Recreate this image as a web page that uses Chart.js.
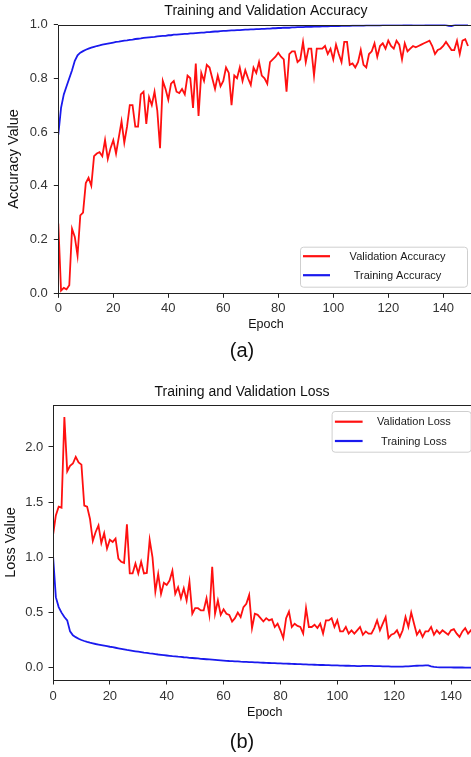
<!DOCTYPE html>
<html><head><meta charset="utf-8">
<script src="https://cdn.jsdelivr.net/npm/chart.js@4.4.1/dist/chart.umd.min.js"></script>
<style>
html,body{margin:0;padding:0;width:471px;height:757px;overflow:hidden;background:#fff;}
canvas{position:absolute;left:0;}
#cA{top:0;}
#cB{top:370px;}
</style></head><body>
<canvas id="cA" width="484" height="370"></canvas>
<canvas id="cB" width="484" height="387"></canvas>
<script>
// ---- data ----
const valAcc = [
0.26,0.01,0.02,0.015,0.03,0.24,0.21,0.14,0.29,0.30,
0.41,0.43,0.40,0.51,0.52,0.525,0.51,0.57,0.50,0.54,
0.57,0.52,0.58,0.64,0.56,0.62,0.70,0.70,0.62,0.62,
0.74,0.75,0.63,0.73,0.70,0.75,0.68,0.54,0.79,0.76,
0.72,0.78,0.79,0.75,0.745,0.76,0.74,0.81,0.80,0.69,
0.855,0.66,0.82,0.79,0.85,0.84,0.80,0.76,0.81,0.77,
0.79,0.84,0.82,0.70,0.81,0.80,0.84,0.79,0.83,0.80,
0.775,0.84,0.82,0.86,0.81,0.80,0.78,0.86,0.87,0.88,
0.895,0.88,0.87,0.75,0.89,0.90,0.90,0.86,0.87,0.935,
0.86,0.91,0.91,0.81,0.91,0.91,0.91,0.92,0.89,0.91,
0.87,0.925,0.89,0.86,0.935,0.935,0.85,0.855,0.84,0.86,
0.905,0.85,0.84,0.89,0.90,0.93,0.88,0.92,0.93,0.91,
0.94,0.92,0.91,0.94,0.925,0.87,0.93,0.90,0.91,0.92,
0.915,0.92,0.925,0.93,0.935,0.94,0.92,0.89,0.905,0.91,
0.92,0.935,0.92,0.905,0.905,0.94,0.89,0.94,0.945,0.92];
const trainAcc = [
0.59,0.69,0.74,0.77,0.80,0.83,0.865,0.885,0.895,0.901,
0.906,0.910,0.914,0.917,0.920,0.922,0.925,0.927,0.929,0.931,
0.933,0.935,0.936,0.938,0.940,0.941,0.943,0.944,0.946,0.947,
0.948,0.950,0.951,0.952,0.953,0.954,0.956,0.957,0.958,0.958,
0.960,0.960,0.962,0.962,0.963,0.964,0.965,0.965,0.967,0.967,
0.968,0.969,0.970,0.970,0.972,0.972,0.973,0.974,0.974,0.975,
0.976,0.976,0.977,0.978,0.978,0.979,0.979,0.980,0.981,0.981,
0.982,0.982,0.983,0.983,0.984,0.984,0.985,0.985,0.986,0.986,
0.987,0.987,0.988,0.988,0.988,0.989,0.989,0.990,0.990,0.990,
0.991,0.991,0.991,0.992,0.992,0.992,0.993,0.993,0.993,0.994,
0.994,0.994,0.994,0.995,0.995,0.995,0.995,0.996,0.996,0.996,
0.996,0.996,0.997,0.997,0.997,0.997,0.997,0.997,0.998,0.998,
0.998,0.998,0.998,0.998,0.998,0.998,0.999,0.999,0.999,0.998,
0.998,0.998,0.998,0.998,0.999,0.999,0.999,0.999,0.999,0.999,
0.999,0.998,0.995,0.994,0.998,0.999,1.000,1.000,1.000,1.000];
const valLoss = [
1.20,1.38,1.46,1.45,2.27,1.78,1.83,1.85,1.91,1.86,
1.84,1.47,1.46,1.35,1.15,1.23,1.29,1.13,1.22,1.08,
1.16,1.14,1.17,0.99,0.96,0.95,1.30,0.855,0.855,0.945,
0.855,0.96,0.855,0.86,1.16,1.00,0.69,0.85,0.67,0.77,
0.75,0.79,0.88,0.67,0.73,0.63,0.72,0.61,0.78,0.49,
0.54,0.54,0.52,0.52,0.63,0.48,0.915,0.49,0.61,0.48,
0.53,0.49,0.48,0.42,0.45,0.50,0.46,0.55,0.58,0.66,
0.36,0.49,0.48,0.45,0.42,0.45,0.43,0.44,0.37,0.40,
0.34,0.27,0.45,0.51,0.37,0.40,0.38,0.37,0.31,0.54,
0.37,0.37,0.39,0.36,0.40,0.31,0.43,0.43,0.45,0.37,
0.43,0.33,0.33,0.37,0.31,0.34,0.31,0.34,0.37,0.30,
0.33,0.31,0.31,0.36,0.43,0.34,0.40,0.46,0.27,0.30,
0.31,0.34,0.28,0.34,0.46,0.37,0.50,0.40,0.30,0.34,
0.28,0.33,0.33,0.37,0.30,0.34,0.31,0.34,0.32,0.30,
0.34,0.35,0.31,0.28,0.33,0.36,0.31,0.34,0.30,0.33];
const trainLoss = [
1.02,0.64,0.55,0.50,0.46,0.43,0.33,0.295,0.278,0.264,
0.252,0.243,0.235,0.228,0.222,0.216,0.211,0.206,0.201,0.196,
0.191,0.187,0.182,0.177,0.172,0.167,0.162,0.158,0.154,0.150,
0.146,0.142,0.138,0.135,0.131,0.128,0.125,0.121,0.118,0.115,
0.112,0.109,0.106,0.104,0.101,0.099,0.096,0.094,0.091,0.089,
0.087,0.085,0.082,0.080,0.078,0.076,0.074,0.072,0.070,0.068,
0.066,0.064,0.062,0.061,0.059,0.058,0.056,0.055,0.054,0.052,
0.051,0.050,0.049,0.047,0.046,0.045,0.044,0.043,0.042,0.041,
0.040,0.039,0.038,0.037,0.036,0.035,0.034,0.033,0.032,0.031,
0.030,0.029,0.028,0.027,0.026,0.026,0.025,0.024,0.023,0.022,
0.022,0.021,0.020,0.019,0.019,0.018,0.017,0.016,0.016,0.017,
0.017,0.018,0.017,0.016,0.015,0.015,0.014,0.013,0.013,0.012,
0.011,0.011,0.011,0.012,0.013,0.014,0.016,0.018,0.019,0.020,
0.021,0.022,0.022,0.014,0.008,0.006,0.005,0.005,0.004,0.004,
0.004,0.003,0.003,0.003,0.003,0.002,0.002,0.002,0.002,0.002];
const epochs = valAcc.map((_, i) => i);
const epochTicks = [0, 20, 40, 60, 80, 100, 120, 140];
const accTicks = [0.0, 0.2, 0.4, 0.6, 0.8, 1.0];
const lossTicks = [0.0, 0.5, 1.0, 1.5, 2.0];

// ---- styling ----
const FONT = '"Liberation Sans", Arial, sans-serif';
Chart.defaults.font.family = FONT;
Chart.defaults.color = '#222';

const framePlugin = {
  id: 'frame',
  afterDatasetsDraw(chart) {
    const {ctx, chartArea: a} = chart;
    ctx.save();
    ctx.strokeStyle = '#222';
    ctx.lineWidth = 1;
    const l = Math.round(a.left) + 0.5, t = Math.round(a.top) + 0.5;
    const r = Math.round(a.right) + 0.5, b = Math.round(a.bottom) + 0.5;
    ctx.strokeRect(l, t, r - l, b - t);
    ctx.restore();
  }
};

const boxLegend = {
  id: 'boxLegend',
  afterDraw(chart, args, o) {
    if (!o || !o.width) return;
    const {ctx, chartArea: a} = chart;
    const left = a.right - o.insetRight - o.width;
    const top = o.corner === 'lower' ? a.bottom - o.insetY - o.height : a.top + o.insetY;
    ctx.save();
    ctx.fillStyle = 'rgba(255,255,255,0.85)';
    ctx.strokeStyle = '#cfcfcf';
    ctx.lineWidth = 1;
    ctx.beginPath();
    ctx.roundRect(left + 0.5, top + 0.5, o.width, o.height, 3);
    ctx.fill();
    ctx.stroke();
    ctx.font = '11px ' + FONT;
    ctx.textAlign = 'center';
    ctx.textBaseline = 'middle';
    chart.data.datasets.forEach((ds, i) => {
      const y = top + o.rows[i];
      ctx.strokeStyle = ds.borderColor;
      ctx.lineWidth = 2.2;
      ctx.beginPath();
      ctx.moveTo(left + o.lineX0, y);
      ctx.lineTo(left + o.lineX1, y);
      ctx.stroke();
      ctx.fillStyle = '#1a1a1a';
      ctx.fillText(ds.label, left + o.textX, y + 0.5);
    });
    ctx.restore();
  }
};

function xy(arr) { return arr.map((v, i) => ({x: epochs[i], y: v})); }

function makeChart(id, cfg) {
  return new Chart(document.getElementById(id), {
    type: 'line',
    data: {
      datasets: [
        {label: cfg.labels[0], data: xy(cfg.val), borderColor: '#ff1010', borderWidth: 1.8, pointRadius: 0, tension: 0, yAxisID: 'y'},
        {label: cfg.labels[1], data: xy(cfg.train), borderColor: '#1a1aee', borderWidth: 1.8, pointRadius: 0, tension: 0, yAxisID: 'y'}
      ]
    },
    options: {
      responsive: false,
      animation: false,
      layout: {padding: 0},
      plugins: {
        legend: {display: false},
        tooltip: {enabled: false},
        title: {display: true, text: cfg.title, fullSize: cfg.titleFull, color: '#111',
                font: {size: 14, weight: 'normal', family: FONT, lineHeight: 1.2},
                padding: cfg.titlePad},
        subtitle: {display: true, position: 'bottom', text: cfg.sub, color: '#111',
                   font: {size: 20, weight: 'normal', family: FONT, lineHeight: 1.2},
                   padding: {top: 0, bottom: cfg.subPadBottom}},
        boxLegend: cfg.legend
      },
      scales: {
        x: {
          type: 'linear', position: 'bottom', min: 0, max: cfg.xMax,
          afterBuildTicks: s => { s.ticks = epochTicks.map(v => ({value: v})); },
          afterFit: s => { s.height = cfg.xHeight; },
          ticks: {color: '#333', font: {size: 13, family: FONT}, padding: cfg.xTickPad, maxRotation: 0,
                  callback: v => String(v)},
          grid: {display: true, drawOnChartArea: false, drawTicks: true, tickLength: 4.5, tickColor: '#222', tickWidth: 1},
          border: {display: false},
          title: {display: true, text: 'Epoch', color: '#111', font: {size: 12.5, family: FONT, lineHeight: 1.2},
                  padding: {top: 0, bottom: cfg.xTitlePad}}
        },
        y: {
          type: 'linear', position: 'left', min: cfg.yMin, max: cfg.yMax,
          afterBuildTicks: s => { s.ticks = cfg.yTicks.map(v => ({value: v})); },
          afterFit: s => { s.width = cfg.yWidth; },
          ticks: {color: '#333', font: {size: 13, family: FONT}, padding: cfg.yTickPad,
                  callback: v => Number(v).toFixed(1)},
          grid: {display: true, drawOnChartArea: false, drawTicks: true, tickLength: 4.5, tickColor: '#222', tickWidth: 1},
          border: {display: false},
          title: {display: true, text: cfg.yTitle, color: '#111', font: {size: 14.5, family: FONT, lineHeight: 1.2},
                  padding: {top: cfg.yTitlePad, bottom: 0}}
        },
        r: {
          type: 'linear', position: 'right', display: true,
          ticks: {display: false}, grid: {display: false}, border: {display: false},
          afterFit: s => { s.width = cfg.rightGap; }
        }
      }
    },
    plugins: [framePlugin, boxLegend]
  });
}

makeChart('cA', {
  labels: ['Validation Accuracy', 'Training Accuracy'],
  val: valAcc, train: trainAcc,
  title: 'Training and Validation Accuracy', titleFull: false, titlePad: {top: 2.6, bottom: 5.1},
  sub: '(a)', subPadBottom: 6.5,
  xMax: 151, xHeight: 46.2, xTickPad: 2.4, xTitlePad: 7.3,
  yMin: 0, yMax: 1, yTicks: accTicks, yWidth: 58.3, yTickPad: 6.1,
  yTitle: 'Accuracy Value', yTitlePad: 5,
  rightGap: 10.5,
  legend: {corner: 'lower', width: 167, height: 40, insetRight: 6.5, insetY: 6.6,
           rows: [9.5, 28.5], lineX0: 3, lineX1: 30, textX: 97.5}
});

makeChart('cB', {
  labels: ['Validation Loss', 'Training Loss'],
  val: valLoss, train: trainLoss,
  title: 'Training and Validation Loss', titleFull: true, titlePad: {top: 13.3, bottom: 4.9},
  sub: '(b)', subPadBottom: 2.5,
  xMax: 149, xHeight: 50.5, xTickPad: 4.4, xTitlePad: 10.8,
  yMin: -0.11, yMax: 2.38, yTicks: lossTicks, yWidth: 53, yTickPad: 5.2,
  yTitle: 'Loss Value', yTitlePad: 2.3,
  rightGap: 7.4,
  legend: {corner: 'upper', width: 139, height: 40.7, insetRight: 6, insetY: 6,
           rows: [10.7, 30], lineX0: 3.3, lineX1: 31, textX: 82.3}
});
</script>
</body></html>
